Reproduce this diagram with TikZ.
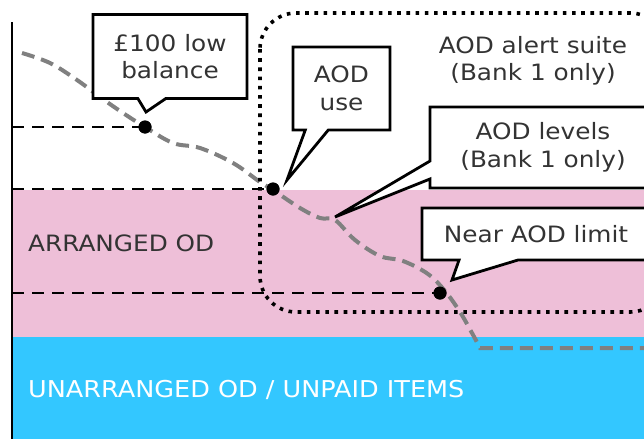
\documentclass[tikz,border=0pt]{standalone}
\usepackage{fontspec}
\setmainfont{DejaVu Sans}[FakeStretch=1.1]
\usetikzlibrary{
    shapes.callouts,
    calc
}
\definecolor{BandPink}{RGB}{238,191,216}
\definecolor{BandBlue}{RGB}{51,199,255}
\definecolor{TextGrey}{RGB}{51,51,51}
\definecolor{CurveGrey}{RGB}{128,128,128}

\begin{document}
\begin{tikzpicture}[
    x=1pt,
    y=-1pt,
    font=\fontsize{22.5}{27.5}\selectfont,
    text=TextGrey,
    guide/.style={black, line width=2.8pt, dash pattern=on 12pt off 8pt},
    balance/.style={CurveGrey, line width=4pt, dash pattern=on 13pt off 7pt},
    suite/.style={black, line width=3.6pt, dash pattern=on 3.6pt off 5.6pt, rounded corners=36pt},
    dot/.style={circle, fill=black, inner sep=0pt, minimum size=13pt},
    bubble/.style={rectangle callout, draw=black, line width=2.8pt, fill=white,
        align=center, inner sep=0pt}
]

% Frame
\useasboundingbox (0,0) rectangle (644,439);
\clip (0,0) rectangle (644,439);

% Bands
\fill[BandPink] (12,190) rectangle (644,337);
\fill[BandBlue] (12,337) rectangle (644,439);

% Axis
\coordinate (top) at (12,22);
\coordinate (bottom) at (12,439);
\draw[black, line width=2.2pt] (top) -- (bottom);

% Thresholds
\coordinate (y1) at (12,127);
\coordinate (y2) at (12,189);
\coordinate (y3) at (12,293);
\node[dot] (d1) at (145,127) {};
\node[dot] (d2) at (273,189) {};
\node[dot] (d3) at (440,293) {};
\draw[guide] (y1) -- (d1.center);
\draw[guide] (y2) -- (d2.center);
\draw[guide] (y3) -- (d3.center);

% Balance
\draw[balance] plot[smooth, tension=0.6] coordinates {
    (22,53) (50,63) (77,80) (100,97) (123,113) (145,127) (173,143) (200,148)
    (233,163) (260,182) (273,190) (300,208) (320,218) (335,220) (355,240)
    (380,256) (403,261) (428,274) (445,291) (460,312) (472,333) (480,348)}
    -- (644,348);

% Suite
\draw[suite] (260,13) rectangle (666,312);
\node[dot] at (d1) {};
\node[dot] at (d2) {};
\node[dot] at (d3) {};

% Callouts
\coordinate (t1) at (146,112);
\coordinate (t2) at (287,180);
\coordinate (t3) at (335,217);
\coordinate (t4) at (452,280);
\node[bubble, minimum width=154pt, minimum height=84pt,
    callout absolute pointer=(t1), callout pointer width=28pt]
    (low) at (170,56.5) {£100 low\\balance};
\node[bubble, minimum width=97pt, minimum height=83pt,
    callout absolute pointer=(t2), callout pointer width=23pt]
    (use) at (341.5,88.5) {AOD\\use};
\node[bubble, minimum width=226pt, minimum height=81pt,
    callout absolute pointer=(t3), callout pointer width=18pt]
    (levels) at (543,147.5) {AOD levels\\(Bank 1 only)};
\node[bubble, minimum width=228pt, minimum height=52pt,
    callout absolute pointer=(t4), callout pointer width=59pt]
    (limit) at (536,234) {Near AOD limit};

% Labels
\node[align=center] (suitelabel) at (533,61) {AOD alert suite\\(Bank 1 only)};
\node[anchor=west, inner sep=0pt] (arranged) at (28,243) {ARRANGED OD};
\node[anchor=west, inner sep=0pt, text=white, font=\fontsize{23.2}{27.5}\selectfont]
    (unarranged) at (28,390) {UNARRANGED OD / UNPAID ITEMS};

\end{tikzpicture}
\end{document}
